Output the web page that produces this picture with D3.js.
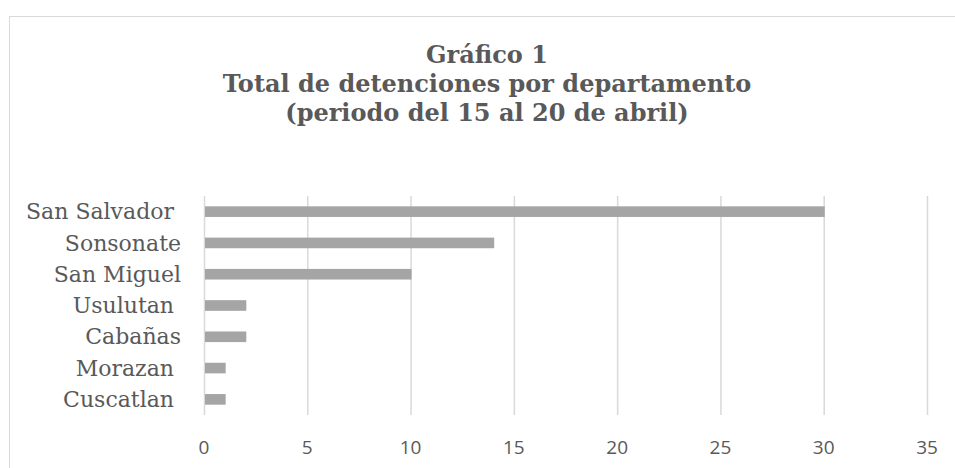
<!DOCTYPE html>
<html>
<head>
<meta charset="utf-8">
<script src="https://cdn.jsdelivr.net/npm/d3@7"></script>
<style>
  body { margin: 0; background: #fff; }
  .cat-label { font-family: "DejaVu Serif", serif; font-size: 22px; fill: #595959; white-space: pre; }
  .tick-label { font-family: "Open Sans", sans-serif; font-size: 19px; fill: #595959; }
  .chart-title { font-family: "DejaVu Serif", serif; font-size: 24px; font-weight: bold; fill: #595959; }
</style>
</head>
<body>
<script>
// data
var departamentos = ["San Salvador ", "Sonsonate", "San Miguel", "Usulutan ", "Cabañas", "Morazan ", "Cuscatlan "];
var detenciones = [30, 14, 10, 2, 2, 1, 1];
var xTicks = [0, 5, 10, 15, 20, 25, 30, 35];
var titleLines = ["Gráfico 1", "Total de detenciones por departamento", "(periodo del 15 al 20 de abril)"];

// layout
var W = 955, H = 468;
var margin = {top: 196, right: 28, bottom: 53, left: 204};
var width = W - margin.left - margin.right;
var height = H - margin.top - margin.bottom;

var svg = d3.select("body").append("svg")
    .attr("width", W)
    .attr("height", H);

// chart border (right and bottom fall outside the window)
svg.append("rect")
    .attr("x", 9.5)
    .attr("y", 16.5)
    .attr("width", W + 20)
    .attr("height", H + 20)
    .attr("fill", "none")
    .attr("stroke", "#d9d9d9");

// title
svg.append("g").selectAll("text")
    .data(titleLines)
    .enter()
    .append("text")
    .attr("class", "chart-title")
    .attr("x", 487)
    .attr("y", (d, i) => 63 + i * 29)
    .attr("text-anchor", "middle")
    .text(d => d);

var x = d3.scaleLinear().domain([0, 35]).range([0, width]);
var y = d3.scaleBand().domain(departamentos).range([0, height]).paddingInner(0.66).paddingOuter(0.33);

var g = svg.append("g").attr("transform", `translate(${margin.left},${margin.top})`);

// gridlines
g.append("g").selectAll("line")
    .data(xTicks)
    .enter()
    .append("line")
    .attr("x1", d => x(d) + 0.5)
    .attr("x2", d => x(d) + 0.5)
    .attr("y1", 0)
    .attr("y2", height)
    .attr("stroke", "#d9d9d9")
    .attr("stroke-width", 1.5);

// bars
g.append("g").selectAll("rect")
    .data(departamentos)
    .enter()
    .append("rect")
    .attr("fill", "#a5a5a5")
    .attr("x", x(0) + 1)
    .attr("y", (d) => y(d))
    .attr("width", (d, i) => x(detenciones[i]) - x(0))
    .attr("height", y.bandwidth());

// category labels
g.append("g").selectAll("text")
    .data(departamentos)
    .enter()
    .append("text")
    .attr("class", "cat-label")
    .attr("x", -23)
    .attr("y", d => y(d) + y.bandwidth() / 2)
    .attr("dy", "0.35em")
    .attr("text-anchor", "end")
    .text(d => d);

// value axis labels
g.append("g").selectAll("text")
    .data(xTicks)
    .enter()
    .append("text")
    .attr("class", "tick-label")
    .attr("x", d => x(d))
    .attr("y", height + 32)
    .attr("dy", "0.35em")
    .attr("text-anchor", "middle")
    .text(d => d);
</script>
</body>
</html>
